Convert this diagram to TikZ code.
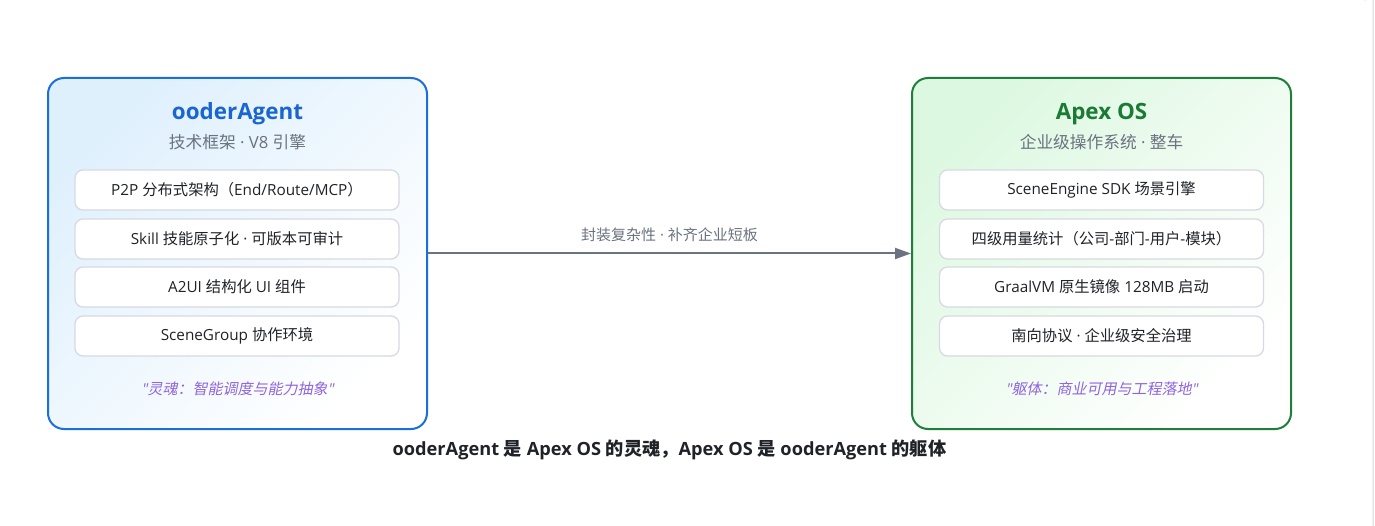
\documentclass[tikz,border=0pt]{standalone}
\usepackage{fontspec}
\setmainfont{Noto Sans CJK SC}[AutoFakeSlant=0.2]
\newfontfamily\latf{Open Sans}[AutoFakeSlant=0.2]
\newcommand\ltn[1]{{\latf #1}}
\usetikzlibrary{arrows.meta}
\definecolor{blueB}{HTML}{1A6FDB}
\definecolor{blueT}{HTML}{1A66D0}
\definecolor{blueF}{HTML}{DFF0FD}
\definecolor{greenB}{HTML}{1E7F3A}
\definecolor{greenT}{HTML}{1B7A33}
\definecolor{greenF}{HTML}{DDF8E1}
\definecolor{subG}{HTML}{6B7280}
\definecolor{itemB}{HTML}{D6DAE1}
\definecolor{itemT}{HTML}{1F2328}
\definecolor{quoteP}{HTML}{9064E0}
\definecolor{arrowG}{HTML}{6B7280}
\definecolor{capT}{HTML}{1F2328}
\definecolor{edgeG}{HTML}{D5D9E0}
\tikzset{
  outerbox/.style={rounded corners=16pt, line width=2pt, minimum width=379pt, minimum height=351pt, inner sep=0pt},
  outerL/.style={outerbox, draw=blueB, top color=blueF, bottom color=white, shading angle=45},
  outerR/.style={outerbox, draw=greenB, top color=greenF, bottom color=white, shading angle=45},
  titletext/.style={font=\fontsize{22.4}{25}\selectfont\bfseries, inner sep=0pt},
  subtext/.style={font=\fontsize{16.7}{19}\selectfont, text=subG, inner sep=0pt},
  item/.style={draw=itemB, line width=1.3pt, fill=white, rounded corners=8pt, minimum width=324pt, minimum height=40pt, inner sep=0pt, font=\fontsize{15.3}{18}\selectfont, text=itemT},
  quotetext/.style={font=\fontsize{15}{17}\selectfont\itshape, text=quoteP, inner sep=0pt},
  arrowline/.style={draw=arrowG, line width=2pt, -{Triangle[length=16pt,width=11pt]}},
  labeltext/.style={font=\fontsize{15}{17}\selectfont, text=subG, inner sep=0pt},
  captext/.style={font=\fontsize{18.2}{21}\selectfont\bfseries, text=capT, inner sep=0pt}
}
\begin{document}
\begin{tikzpicture}[x=1pt,y=-1pt]
\useasboundingbox (0,0) rectangle (1375,526);
\fill[white] (0,0) rectangle (1375,526);
\draw[edgeG, line width=1pt] (1364,0) arc[start angle=90, end angle=0, radius=9] -- (1373,526);

% left box
\node[outerL] (L) at (237.5,253.5) {};
\node[titletext, text=blueT] (Lt) at (237.5,114) {\ltn{ooderAgent}};
\node[subtext] (Ls) at (237.5,142) {技术框架\ltn{ · V8 }引擎};
\node[item] (L1) at (237,190) {\ltn{P2P }分布式架构（\ltn{End/Route/MCP}）};
\node[item] (L2) at (237,239) {\ltn{Skill }技能原子化\ltn{ · }可版本可审计};
\node[item] (L3) at (237,287) {\ltn{A2UI }结构化\ltn{ UI }组件};
\node[item] (L4) at (237,336) {\ltn{SceneGroup }协作环境};
\node[quotetext] (Lq) at (237.5,389) {\ltn{"}灵魂：智能调度与能力抽象\ltn{"}};

% right box
\node[outerR] (R) at (1101.5,253.5) {};
\node[titletext, text=greenT] (Rt) at (1101.5,114) {\ltn{Apex OS}};
\node[subtext] (Rs) at (1101.5,142) {企业级操作系统\ltn{ · }整车};
\node[item] (R1) at (1101.5,190) {\ltn{SceneEngine SDK }场景引擎};
\node[item] (R2) at (1101.5,239) {四级用量统计（公司\ltn{-}部门\ltn{-}用户\ltn{-}模块）};
\node[item] (R3) at (1101.5,287) {\ltn{GraalVM }原生镜像\ltn{ 128MB }启动};
\node[item] (R4) at (1101.5,336) {南向协议\ltn{ · }企业级安全治理};
\node[quotetext] (Rq) at (1101.5,389) {\ltn{"}躯体：商业可用与工程落地\ltn{"}};

% connector
\draw[arrowline] (L.east) -- (R.west);
\node[labeltext] (lab) at (669.5,235) {封装复杂性\ltn{ · }补齐企业短板};

% caption
\node[captext] (cap) at (669.5,450) {\ltn{ooderAgent }是\ltn{ Apex OS }的灵魂，\ltn{Apex OS }是\ltn{ ooderAgent }的躯体};
\end{tikzpicture}
\end{document}
